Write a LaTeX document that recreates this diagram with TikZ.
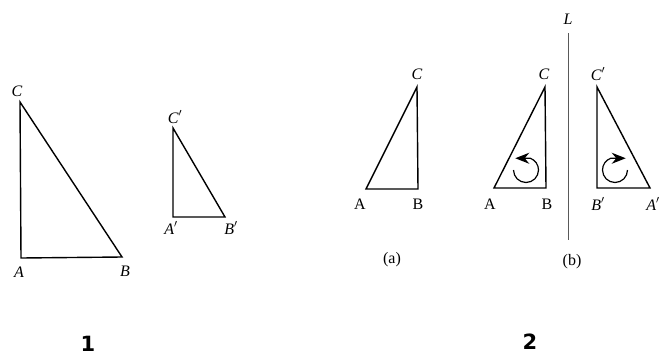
\documentclass[tikz,border=0pt]{standalone}
\usepackage{fontspec}
\setmainfont{Liberation Serif}
\newfontfamily\numfont{DejaVu Sans}
\usetikzlibrary{arrows.meta}

\begin{document}
\begin{tikzpicture}[x=1pt, y=-1pt, >={Stealth[length=14pt,width=11pt]},
    tri/.style={line width=1.4pt, line join=miter},
    lab/.style={font=\fontsize{16}{18}\selectfont, inner sep=0pt},
    num/.style={font=\numfont\bfseries\fontsize{21}{24}\selectfont, inner sep=0pt}]
    \useasboundingbox[fill=white] (0,0) rectangle (660,356);

    % Figure 1: big triangle
    \coordinate (C1) at (20,102);
    \coordinate (A1) at (21,258);
    \coordinate (B1) at (122,257);
    \draw[tri] (C1) -- (A1) -- (B1) -- cycle;
    \node[lab] (labC1) at (17,91) {\textit{C}};
    \node[lab] (labA1) at (19,272) {\textit{A}};
    \node[lab] (labB1) at (125,271) {\textit{B}};

    % Figure 1: small triangle
    \coordinate (C2) at (173,128);
    \coordinate (A2) at (173,217);
    \coordinate (B2) at (225,217);
    \draw[tri] (C2) -- (A2) -- (B2) -- cycle;
    \node[lab] (labC2) at (175,117) {\textit{C}$'$};
    \node[lab] (labA2) at (171,228) {\textit{A}$'$};
    \node[lab] (labB2) at (231,228) {\textit{B}$'$};

    \node[num] (one) at (88,344) {1};

    % Figure 2 (a)
    \coordinate (Ca) at (417,87);
    \coordinate (Aa) at (366,189);
    \coordinate (Ba) at (418,189);
    \draw[tri] (Ca) -- (Aa) -- (Ba) -- cycle;
    \node[lab] (labCa) at (417,74) {\textit{C}};
    \node[lab] (labAa) at (360,204) {A};
    \node[lab] (labBa) at (418,204) {B};
    \node[lab] (capa) at (392,260) {(a)};

    % Figure 2 (b), left of the line
    \coordinate (Cb) at (545,87);
    \coordinate (Ab) at (494,188);
    \coordinate (Bb) at (546,188);
    \draw[tri] (Cb) -- (Ab) -- (Bb) -- cycle;
    \node[lab] (labCb) at (544,74) {\textit{C}};
    \node[lab] (labAb) at (490,204) {A};
    \node[lab] (labBb) at (547,204) {B};
    \coordinate (Ob) at (526,170);
    \draw[line width=1.2pt, ->] (Ob) ++(180:12.5pt) arc[start angle=180, end angle=430, radius=12.5pt] -- ++(-15pt,0pt);

    % mirror line
    \coordinate (Ltop) at (568,33);
    \coordinate (Lbot) at (568,240);
    \draw[line width=0.8pt, black!65] (Ltop) -- (Lbot);
    \node[lab] (labL) at (568,19) {\textit{L}};

    % Figure 2 (b), right of the line
    \coordinate (Cr) at (597,87);
    \coordinate (Br) at (597,188);
    \coordinate (Ar) at (650,188);
    \draw[tri] (Cr) -- (Br) -- (Ar) -- cycle;
    \node[lab] (labCr) at (598,74) {\textit{C}$'$};
    \node[lab] (labBr) at (598,204) {\textit{B}$'$};
    \node[lab] (labAr) at (653,204) {\textit{A}$'$};
    \coordinate (Or) at (615,170);
    \draw[line width=1.2pt, ->] (Or) ++(0:12.5pt) arc[start angle=0, end angle=-250, radius=12.5pt] -- ++(15pt,0pt);
    \node[lab] (capb) at (572,262) {(b)};

    \node[num] (two) at (530,342) {2};
\end{tikzpicture}
\end{document}
